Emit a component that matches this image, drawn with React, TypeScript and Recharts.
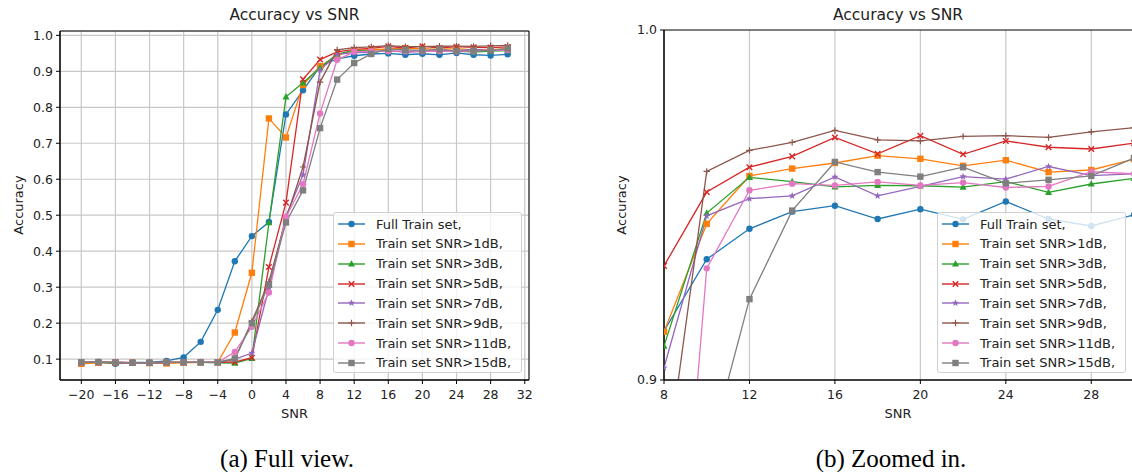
import { LineChart, Line, XAxis, YAxis, CartesianGrid, ReferenceArea } from 'recharts'

// SNR values (dB) on the x axis
const snr = [-20, -18, -16, -14, -12, -10, -8, -6, -4, -2, 0, 2, 4, 6, 8, 10, 12, 14, 16, 18, 20, 22, 24, 26, 28, 30]

// accuracy per training set
const fullTrain = [0.089, 0.092, 0.087, 0.091, 0.091, 0.095, 0.105, 0.148, 0.237, 0.372, 0.442, 0.481, 0.780, 0.847, 0.914, 0.9345, 0.9432, 0.9481, 0.9498, 0.946, 0.9488, 0.9459, 0.951, 0.946, 0.944, 0.9472]
const snr1 = [0.087, 0.090, 0.090, 0.090, 0.089, 0.088, 0.090, 0.091, 0.091, 0.174, 0.340, 0.769, 0.716, 0.862, 0.9138, 0.9446, 0.9583, 0.9604, 0.962, 0.9641, 0.9632, 0.9612, 0.9628, 0.9594, 0.960, 0.9631]
const snr3 = [0.091, 0.091, 0.090, 0.090, 0.090, 0.091, 0.091, 0.091, 0.090, 0.089, 0.102, 0.479, 0.829, 0.868, 0.9097, 0.9477, 0.9579, 0.9567, 0.9552, 0.9556, 0.9555, 0.9551, 0.9567, 0.9536, 0.956, 0.9576]
const snr5 = [0.091, 0.091, 0.091, 0.090, 0.090, 0.091, 0.091, 0.091, 0.091, 0.092, 0.104, 0.356, 0.535, 0.878, 0.9326, 0.9537, 0.9608, 0.9639, 0.9693, 0.9646, 0.9698, 0.9645, 0.9683, 0.9665, 0.966, 0.9677]
const snr7 = [0.091, 0.091, 0.091, 0.090, 0.090, 0.091, 0.091, 0.091, 0.091, 0.100, 0.117, 0.297, 0.497, 0.612, 0.9035, 0.9469, 0.9518, 0.9526, 0.958, 0.9526, 0.9553, 0.9581, 0.9574, 0.961, 0.9584, 0.9589]
const snr9 = [0.091, 0.091, 0.091, 0.090, 0.090, 0.091, 0.091, 0.091, 0.091, 0.100, 0.205, 0.315, 0.490, 0.634, 0.870, 0.9596, 0.9656, 0.9679, 0.9713, 0.9686, 0.9683, 0.9696, 0.9698, 0.9693, 0.9709, 0.9721]
const snr11 = [0.091, 0.091, 0.091, 0.090, 0.090, 0.091, 0.091, 0.091, 0.091, 0.120, 0.190, 0.285, 0.495, 0.586, 0.783, 0.9319, 0.9542, 0.9561, 0.9556, 0.9566, 0.9556, 0.9564, 0.955, 0.9553, 0.9595, 0.9589]
const snr15 = [0.091, 0.092, 0.091, 0.090, 0.090, 0.091, 0.091, 0.091, 0.091, 0.102, 0.200, 0.307, 0.480, 0.569, 0.742, 0.877, 0.9231, 0.9484, 0.9623, 0.9594, 0.9581, 0.9608, 0.9562, 0.9572, 0.9583, 0.9634]

const seriesValues = [fullTrain, snr1, snr3, snr5, snr7, snr9, snr11, snr15]
const seriesNames = [
  'Full Train set,',
  'Train set SNR>1dB,',
  'Train set SNR>3dB,',
  'Train set SNR>5dB,',
  'Train set SNR>7dB,',
  'Train set SNR>9dB,',
  'Train set SNR>11dB,',
  'Train set SNR>15dB,',
]
const seriesColors = ['#1f77b4', '#ff7f0e', '#2ca02c', '#d62728', '#9467bd', '#8c564b', '#e377c2', '#7f7f7f']
const seriesMarkers = ['circle', 'square', 'triangle', 'x', 'star', 'plus', 'circle', 'square']

const fullTicksX = [-20, -16, -12, -8, -4, 0, 4, 8, 12, 16, 20, 24, 28, 32]
const fullTicksY = [0.1, 0.2, 0.3, 0.4, 0.5, 0.6, 0.7, 0.8, 0.9, 1.0]
const zoomTicksX = [8, 12, 16, 20, 24, 28]
const zoomTicksY = [0.9, 1.0]

const FONT = 'DejaVu Sans'
const TEXT = '#222'

const data = snr.map((s, i) => {
  const row: Record<string, number> = { snr: s }
  seriesValues.forEach((vals, k) => { row['s' + k] = vals[i] })
  return row
})

const fmtX = (v: number) => (v < 0 ? '\u2212' + Math.abs(v) : String(v))
const fmtY = (v: number) => v.toFixed(1)

function Marker({ kind, cx, cy, color }: { kind: string; cx: number; cy: number; color: string }) {
  if (kind === 'circle') return <circle cx={cx} cy={cy} r={3.2} fill={color} />
  if (kind === 'square') return <rect x={cx - 3.2} y={cy - 3.2} width={6.4} height={6.4} fill={color} />
  if (kind === 'triangle') {
    return <polygon points={`${cx},${cy - 3.8} ${cx - 3.5},${cy + 2.6} ${cx + 3.5},${cy + 2.6}`} fill={color} />
  }
  if (kind === 'x') {
    const d = 2.8
    return (
      <path d={`M${cx - d},${cy - d}L${cx + d},${cy + d}M${cx - d},${cy + d}L${cx + d},${cy - d}`} stroke={color} strokeWidth={1.4} fill="none" />
    )
  }
  if (kind === 'plus') {
    const d = 3.2
    return <path d={`M${cx - d},${cy}L${cx + d},${cy}M${cx},${cy - d}L${cx},${cy + d}`} stroke={color} strokeWidth={1.2} fill="none" />
  }
  // star
  const pts: string[] = []
  for (let i = 0; i < 10; i++) {
    const r = i % 2 === 0 ? 3.8 : 1.6
    const a = -Math.PI / 2 + (i * Math.PI) / 5
    pts.push(`${cx + r * Math.cos(a)},${cy + r * Math.sin(a)}`)
  }
  return <polygon points={pts.join(' ')} fill={color} />
}

function makeDot(kind: string, color: string) {
  return (props: any) => {
    const { cx, cy, index } = props
    if (cx == null || cy == null) return <g key={index} />
    return (
      <g key={index}>
        <Marker kind={kind} cx={cx} cy={cy} color={color} />
      </g>
    )
  }
}

function LegendBox({ left, top }: { left: number; top: number }) {
  return (
    <div
      style={{
        position: 'absolute',
        left,
        top,
        width: 189,
        height: 161,
        boxSizing: 'border-box',
        border: '1px solid #d0d0d0',
        borderRadius: 3,
        background: 'rgba(255,255,255,0.8)',
        fontFamily: FONT,
        fontSize: 13,
        color: TEXT,
      }}
    >
      {seriesNames.map((name, k) => (
        <div key={name} style={{ position: 'absolute', left: 4, top: k * 19.85 + 1, height: 20, display: 'flex', alignItems: 'center' }}>
          <svg width={28} height={20} style={{ display: 'block' }}>
            <line x1={0} y1={10} x2={27} y2={10} stroke={seriesColors[k]} strokeWidth={1.4} />
            <Marker kind={seriesMarkers[k]} cx={13.5} cy={10} color={seriesColors[k]} />
          </svg>
          <span style={{ marginLeft: 10, whiteSpace: 'nowrap' }}>{name}</span>
        </div>
      ))}
    </div>
  )
}

function AbsText({ x, y, text, size, rotate, family }: { x: number; y: number; text: string; size: number; rotate?: boolean; family?: string }) {
  return (
    <div
      style={{
        position: 'absolute',
        left: x,
        top: y,
        transform: `translate(-50%, -50%)${rotate ? ' rotate(-90deg)' : ''}`,
        fontFamily: family || FONT,
        fontSize: size,
        color: family ? '#000' : TEXT,
        whiteSpace: 'nowrap',
        lineHeight: 1,
      }}
    >
      {text}
    </div>
  )
}

function Panel({ width, margin, xDomain, yDomain, xTicks, yTicks, horizontalGrid }: any) {
  return (
    <LineChart width={width} height={420} data={data} margin={margin}>
      <CartesianGrid stroke="#c8c8c8" strokeWidth={1.2} horizontal={horizontalGrid} vertical />
      <XAxis
        dataKey="snr"
        type="number"
        domain={xDomain}
        ticks={xTicks}
        interval={0}
        allowDataOverflow
        height={40}
        tickSize={4}
        tickMargin={6}
        tickFormatter={fmtX}
        axisLine={{ stroke: '#000' }}
        tickLine={{ stroke: '#000' }}
        tick={{ fontSize: 12.5, fill: TEXT, fontFamily: FONT }}
      />
      <YAxis
        type="number"
        domain={yDomain}
        ticks={yTicks}
        interval={0}
        allowDataOverflow
        width={60}
        tickSize={4}
        tickMargin={3}
        tickFormatter={fmtY}
        axisLine={{ stroke: '#000' }}
        tickLine={{ stroke: '#000' }}
        tick={{ fontSize: 12.5, fill: TEXT, fontFamily: FONT }}
      />
      <ReferenceArea x1={xDomain[0]} x2={xDomain[1]} y1={yDomain[0]} y2={yDomain[1]} fill="none" stroke="#000" strokeWidth={1} ifOverflow="visible" />
      {seriesNames.map((name, k) => (
        <Line
          key={name}
          dataKey={'s' + k}
          name={name}
          stroke={seriesColors[k]}
          strokeWidth={1.3}
          dot={makeDot(seriesMarkers[k], seriesColors[k])}
          activeDot={false}
          isAnimationActive={false}
        />
      ))}
    </LineChart>
  )
}

export default function App() {
  return (
    <div style={{ position: 'absolute', left: 0, top: 0, width: 1132, height: 472, overflow: 'hidden', background: '#fff' }}>
      <div style={{ position: 'absolute', left: 0, top: 0 }}>
        <Panel
          width={560}
          margin={{ top: 31, right: 31, left: 0, bottom: 0 }}
          xDomain={[-22.5, 32.5]}
          yDomain={[0.042, 1.012]}
          xTicks={fullTicksX}
          yTicks={fullTicksY}
          horizontalGrid
        />
      </div>
      <div style={{ position: 'absolute', left: 604, top: 0 }}>
        <Panel
          width={530}
          margin={{ top: 30, right: 0, left: 0, bottom: 0 }}
          xDomain={[8, 30]}
          yDomain={[0.9, 1.0]}
          xTicks={zoomTicksX}
          yTicks={zoomTicksY}
          horizontalGrid={false}
        />
      </div>
      <LegendBox left={333} top={212} />
      <LegendBox left={937} top={212} />

      <AbsText x={294.5} y={16} text="Accuracy vs SNR" size={15.5} />
      <AbsText x={898} y={16} text="Accuracy vs SNR" size={15.5} />
      <AbsText x={18} y={205} text="Accuracy" size={13} rotate />
      <AbsText x={621} y={205} text="Accuracy" size={13} rotate />
      <AbsText x={294.5} y={413} text="SNR" size={13} />
      <AbsText x={898} y={413} text="SNR" size={13} />
      <AbsText x={287} y={458} text="(a) Full view." size={25} family="Liberation Serif" />
      <AbsText x={891} y={458} text="(b) Zoomed in." size={25} family="Liberation Serif" />
    </div>
  )
}
